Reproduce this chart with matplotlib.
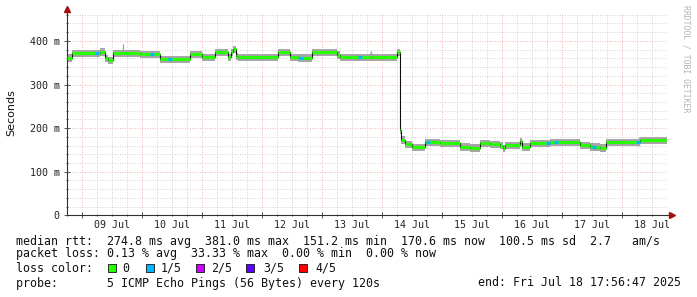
import numpy as np
import matplotlib
matplotlib.use('Agg')
import matplotlib.pyplot as plt
import matplotlib.dates as mdates
from matplotlib.ticker import MultipleLocator, FuncFormatter
from datetime import datetime, timedelta

START = datetime(2025, 7, 8, 17, 56, 47)
END = START + timedelta(days=10)

# median rtt as steps: hours since START -> ms
step_hours = [0.0, 2.2, 13.4, 15.4, 16.6, 18.6, 29.4, 37.4, 49.4, 54.2, 59.4, 64.6,
              65.8, 66.6, 67.8, 68.6, 84.6, 89.4, 92.6, 98.2, 108.2, 109.4, 121.4,
              122.2, 132.2, 133.4, 133.8, 135.4, 138.2, 143.4, 149.4, 157.4, 161.4,
              165.4, 169.4, 173.4, 174.6, 175.4, 181.4, 182.2, 185.4, 193.4, 205.4,
              209.4, 213.4, 215.8, 229.4]
median_ms = [361, 372, 375, 360, 356, 372, 370, 358, 370, 363, 374, 362,
             374, 381, 365, 362, 374, 363, 361, 374, 368, 362, 364,
             362, 374, 195, 173, 163, 156, 167, 165, 157, 155,
             165, 163, 160, 154, 161, 170, 157, 165, 167, 161,
             157, 155, 167, 172]

# moments with 1/5 packet loss (hours since START)
loss_hours = [12.2, 34.2, 41.4, 93.8, 117.4, 144.6, 192.6, 195.8, 211.0, 228.6]

# tall smoke spikes
spike_hours = [22.6, 121.8, 228.8]
spike_ms = [393, 377, 179]

loss_labels = ['0', '1/5', '2/5', '3/5', '4/5']
loss_colors = ['#26ff00', '#00b8ff', '#cc00ff', '#5e00ff', '#ff0000']

legend_lines = [
    'median rtt:  274.8 ms avg  381.0 ms max  151.2 ms min  170.6 ms now  100.5 ms sd  2.7   am/s',
    'packet loss: 0.13 % avg  33.33 % max  0.00 % min  0.00 % now',
    'loss color:',
    'probe:       5 ICMP Echo Pings (56 Bytes) every 120s',
]
end_text = 'end: Fri Jul 18 17:56:47 2025'

W, H = 697, 297
MONO = 'DejaVu Sans Mono'

fig = plt.figure(figsize=(W / 100, H / 100), dpi=100, facecolor='white')
x0, x1 = 66.6, 666.6
ytop, ybot = 13.9, 215.3
ax = fig.add_axes([x0 / W, 1 - ybot / H, (x1 - x0) / W, (ybot - ytop) / H])

t = [START + timedelta(hours=h) for h in step_hours] + [END]
med = np.array(median_ms + [median_ms[-1]]) / 1000.0

# smoke band
ax.fill_between(t, med - 0.009, med + 0.008, step='post', color='#a6a6a6', lw=0, zorder=2)
for h, v in zip(spike_hours, spike_ms):
    tt = START + timedelta(hours=h)
    ax.vlines(tt, v / 1000 - 0.02, v / 1000, color='#a6a6a6', lw=1.0, zorder=2)

# black median path then loss-colored segments
ax.step(t, med, where='post', color='#111111', lw=0.8, zorder=3)
ax.hlines(med[:-1], t[:-1], t[1:], color=loss_colors[0], lw=2.2, zorder=4)

sh = np.array(step_hours)
for h in loss_hours:
    i = np.searchsorted(sh, h, side='right') - 1
    a = START + timedelta(hours=h - 0.7)
    b = START + timedelta(hours=h + 0.7)
    ax.hlines(median_ms[i] / 1000, a, b, color=loss_colors[1], lw=2.2, zorder=5)

ax.set_xlim(START, END)
ax.set_ylim(0, 0.462)

# grid
ax.xaxis.set_major_locator(mdates.DayLocator())
ax.xaxis.set_minor_locator(mdates.HourLocator(byhour=range(0, 24, 6)))
ax.yaxis.set_major_locator(MultipleLocator(0.1))
ax.yaxis.set_minor_locator(MultipleLocator(0.02))
ax.set_axisbelow(True)
ax.grid(which='minor', color='#c4c4c4', ls=(0, (1, 2)), lw=0.6)
ax.grid(which='major', color='#e79b9b', ls=(0, (1, 2)), lw=0.6)


def day_label(x, pos):
    if abs((x % 1) - 0.5) < 1e-4:
        return mdates.num2date(x).strftime('%d %b')
    return ''


ax.xaxis.set_major_formatter(FuncFormatter(lambda x, p: ''))
ax.xaxis.set_minor_formatter(FuncFormatter(day_label))
ax.yaxis.set_major_formatter(FuncFormatter(lambda v, p: '0' if round(v * 1000) == 0 else f'{round(v * 1000)} m'))

ax.tick_params(which='both', direction='inout', color='#404040', width=0.6,
               labelsize=7.2, labelcolor='#222222')
ax.tick_params(which='major', length=4)
ax.tick_params(which='minor', length=2)
ax.tick_params(axis='x', which='minor', pad=2.5)
ax.tick_params(axis='y', pad=3)
for lab in ax.get_xticklabels(minor=True) + ax.get_yticklabels():
    lab.set_family(MONO)

for s in ['top', 'right']:
    ax.spines[s].set_visible(False)
for s in ['left', 'bottom']:
    ax.spines[s].set_color('#303030')
    ax.spines[s].set_linewidth(0.8)

# axis extensions with arrows
ax.plot([1, 1.006], [0, 0], transform=ax.transAxes, color='#303030', lw=0.8, clip_on=False)
ax.plot([0, 0], [1, 1.02], transform=ax.transAxes, color='#303030', lw=0.8, clip_on=False)
ax.plot([1.009], [0], transform=ax.transAxes, marker='>', ms=4, color='#a01010', clip_on=False)
ax.plot([0], [1.025], transform=ax.transAxes, marker='^', ms=4, color='#a01010', clip_on=False)

fig.text(11 / W, 1 - 113 / H, 'Seconds', rotation=90, ha='center', va='center',
         fontsize=8, family='DejaVu Sans', color='#111111')
fig.text(686 / W, 1 - 59 / H, 'RRDTOOL / TOBI OETIKER', rotation=270, ha='center', va='center',
         fontsize=5.9, family=MONO, color='#b4b4b4')

# legend block
line_y = [241, 254, 268, 283]
for txt, y in zip(legend_lines, line_y):
    fig.text(16 / W, 1 - y / H, txt, ha='left', va='center', fontsize=8.4, family=MONO, color='#111111')
fig.text(681 / W, 1 - line_y[3] / H, end_text, ha='right', va='center', fontsize=8.4,
         family=MONO, color='#111111')

box_x = [108, 146, 196, 246, 299]
text_x = [122.5, 160.5, 211.5, 263, 315.5]
for bx, tx, lab, col in zip(box_x, text_x, loss_labels, loss_colors):
    fig.patches.append(plt.Rectangle((bx / W, 1 - 272 / H), 8 / W, 8 / H, transform=fig.transFigure,
                                     facecolor=col, edgecolor='#111111', lw=0.6))
    fig.text(tx / W, 1 - line_y[2] / H, lab, ha='left', va='center', fontsize=8.4, family=MONO,
             color='#111111')

fig.savefig('out.png', dpi=100, facecolor='white')
